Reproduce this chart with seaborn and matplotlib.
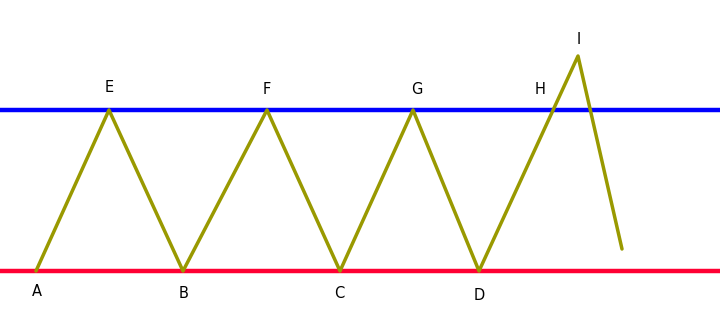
import matplotlib
matplotlib.use("Agg")
import matplotlib.pyplot as plt
import seaborn as sns
import pandas as pd

# zigzag path (pixel-like coordinates, y grows downward)
path_x = [36, 109, 183, 267, 340, 413, 479, 578, 622]
path_y = [271, 110, 271, 110, 271, 110, 271, 56, 249]

# point labels
label_names = ["A", "B", "C", "D", "E", "F", "G", "H", "I"]
label_x = [37, 184, 339, 479, 109, 267, 417, 540, 579]
label_y = [291, 293, 293, 295, 88, 90, 90, 90, 40]

# horizontal levels
resistance_y = 110
support_y = 271
level_x = [0, 720]

sns.set_theme(style="white")
plt.rcParams['font.family'] = ['DejaVu Sans']

fig = plt.figure(figsize=(7.2, 3.14), dpi=100)
ax = fig.add_axes([0, 0, 1, 1])

sns.lineplot(x=level_x, y=[resistance_y] * 2, ax=ax, color="#0000ff", linewidth=3.2)
sns.lineplot(x=level_x, y=[support_y] * 2, ax=ax, color="#ff0033", linewidth=3.2)
df = pd.DataFrame({"x": path_x, "y": path_y})
sns.lineplot(data=df, x="x", y="y", sort=False, ax=ax, color="#999900", linewidth=2.5)

for n, x, y in zip(label_names, label_x, label_y):
    ax.text(x, y, n, ha="center", va="center", fontsize=10.5, color="black")

ax.set_xlim(0, 720)
ax.set_ylim(314, 0)
ax.axis("off")
fig.savefig("out.png", dpi=100)
